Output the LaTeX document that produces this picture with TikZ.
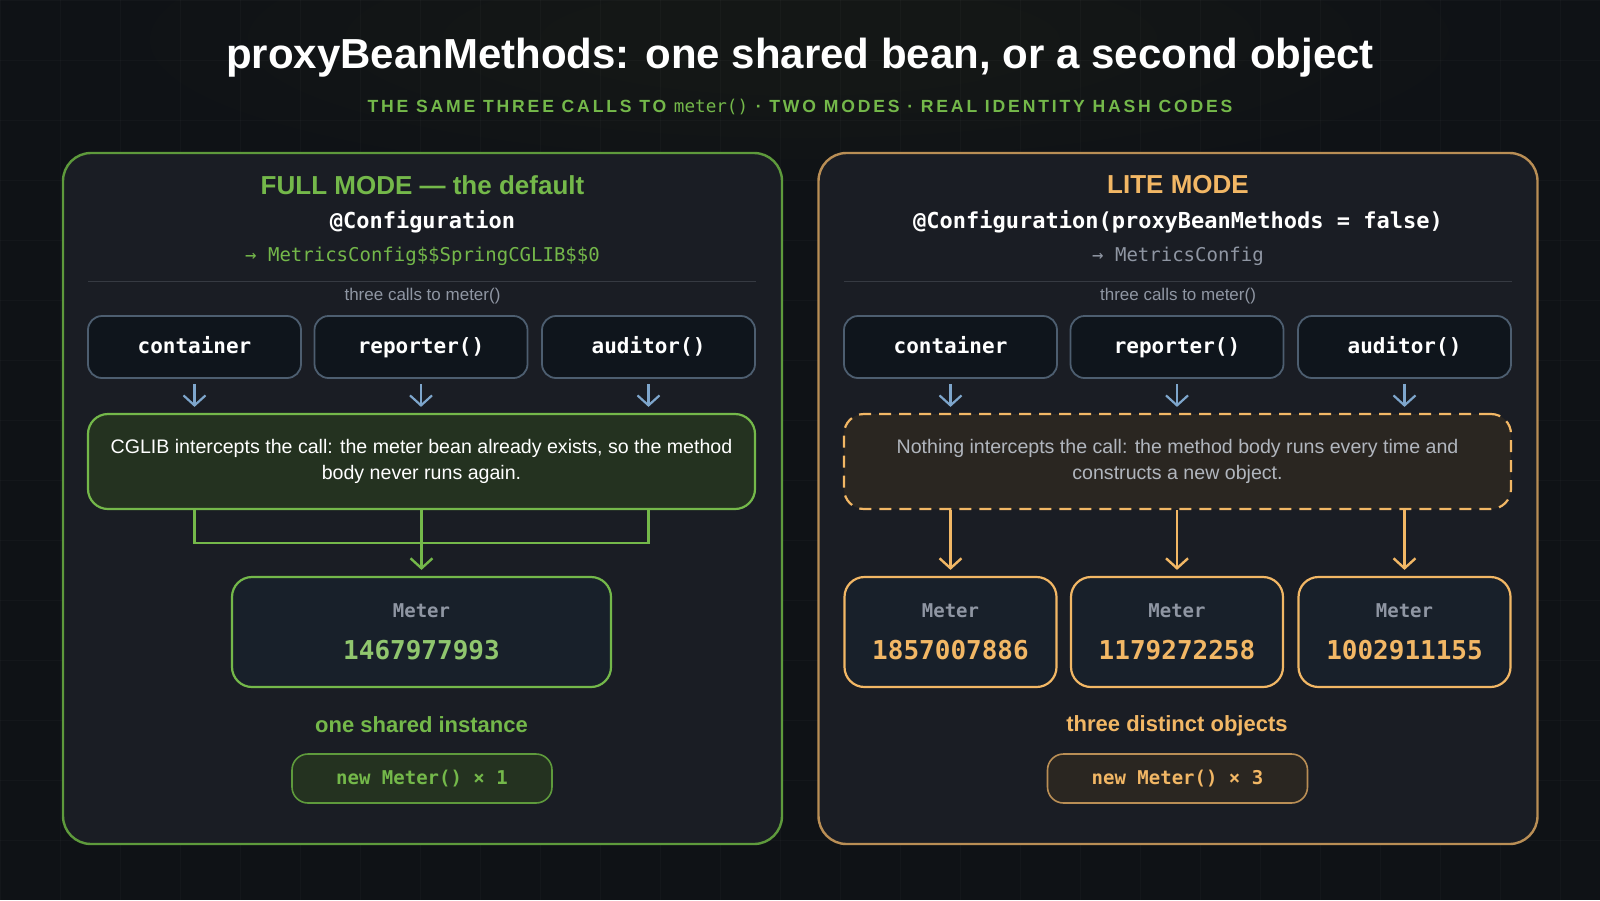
\documentclass[tikz,border=0pt]{standalone}
\usepackage{fontspec}
\setmainfont{Liberation Sans}
\setmonofont{DejaVu Sans Mono}
\usetikzlibrary{arrows.meta,positioning}
\definecolor{bg}{HTML}{0F1216}
\definecolor{panel}{HTML}{1A1D24}
\definecolor{grn}{HTML}{74B84A}
\definecolor{grnB}{HTML}{5E9A3C}
\definecolor{org}{HTML}{F2B765}
\definecolor{orgB}{HTML}{B98E55}
\definecolor{callF}{HTML}{0F151C}
\definecolor{callB}{HTML}{4D5E70}
\definecolor{blu}{HTML}{7EA6CC}
\definecolor{gry}{HTML}{8F96A3}
\definecolor{grnF}{HTML}{243220}
\definecolor{orgF}{HTML}{2A2621}
\definecolor{meterF}{HTML}{18202A}
\definecolor{sep}{HTML}{363A42}
\tikzset{
  panelbox/.style={draw, line width=1.2pt, rounded corners=14pt, fill=panel, minimum width=359.5pt, minimum height=345.5pt},
  call/.style={draw=callB, line width=0.9pt, fill=callF, rounded corners=7pt, minimum width=106.5pt, minimum height=31pt, text height=8pt, text depth=2pt, text=white, font=\ttfamily\bfseries\fontsize{10.5}{12}\selectfont},
  meter/.style={draw, line width=1.1pt, fill=meterF, rounded corners=10pt, minimum height=55pt, align=center},
  pill/.style={draw, line width=0.8pt, rounded corners=8pt, minimum width=130pt, minimum height=24.5pt, font=\ttfamily\bfseries\fontsize{9.5}{11}\selectfont},
  lbl/.style={font=\fontsize{8.5}{10}\selectfont, text=gry},
  barr/.style={blu, line width=1.1pt, -{Straight Barb[length=5pt,width=11pt]}},
  garr/.style={grn, line width=1.2pt, -{Straight Barb[length=5pt,width=11pt]}},
  oarr/.style={org, line width=1.2pt, -{Straight Barb[length=5pt,width=11pt]}},
}
\newcommand{\mlbl}{{\color{gry}\ttfamily\bfseries\fontsize{9.5}{11}\selectfont Meter}}
\begin{document}
\begin{tikzpicture}[x=0.5pt,y=-0.5pt]
\useasboundingbox (0,0) rectangle (1600,900);
\fill[bg] (0,0) rectangle (1600,900);
\begin{scope}
\clip (0,0) rectangle (1600,900);
\foreach \i in {0,60,...,1600} \draw[white,opacity=0.025] (\i,0) -- (\i,900);
\foreach \j in {0,60,...,900} \draw[white,opacity=0.025] (0,\j) -- (1600,\j);
\foreach \s in {1.0,0.85,0.7,0.55,0.4} \fill[grn,opacity=0.012] (800,40) ellipse ({650*\s} and {140*\s});
\end{scope}
\node (title) at (800,58) {\color{white}\bfseries\fontsize{21}{25}\selectfont proxyBeanMethods: one shared bean, or a second object};
\node (sub) at (800,107) {\color{grn}\bfseries\fontsize{8.8}{10}\selectfont\addfontfeatures{LetterSpace=16}THE SAME THREE CALLS TO {\ttfamily\mdseries meter()} · TWO MODES · REAL IDENTITY HASH CODES};

% panels
\node[panelbox, draw=grnB] (lp) at (422.5,498.5) {};
\node[panelbox, draw=orgB] (rp) at (1178,498.5) {};

% left header
\node (lh) at (422.5,185) {\color{grn}\bfseries\fontsize{13}{15}\selectfont FULL MODE — the default};
\node (lc) at (422.5,222) {\color{white}\ttfamily\bfseries\fontsize{11}{13}\selectfont @Configuration};
\node (lcls) at (422.5,256) {\color{grn}\ttfamily\fontsize{9.5}{11}\selectfont → MetricsConfig\$\$SpringCGLIB\$\$0};
\draw[sep] (88,281) -- (756,281);
\node[lbl] (lt) at (422.5,296) {three calls to meter()};
\node[call] (lc1) at (194.5,347) {container};
\node[call] (lc2) at (421,347) {reporter()};
\node[call] (lc3) at (648.5,347) {auditor()};
\coordinate (la1) at (194.5,384); \coordinate (la2) at (421,384); \coordinate (la3) at (648.5,384);
\node[draw=grn, line width=1.1pt, fill=grnF, rounded corners=10pt, minimum width=333.5pt, minimum height=47.5pt, align=center, text=white, font=\fontsize{9.8}{13}\selectfont] (lint) at (421.5,461.5) {CGLIB intercepts the call: the meter bean already exists, so the method\\body never runs again.};
\foreach \k in {1,2,3} \draw[barr] (la\k) -- ([yshift=3pt]la\k |- lint.north);
\node[meter, draw=grn, minimum width=189.5pt] (lm) at (421.5,632) {\mlbl\\[9pt]{\color{grn!80!white}\ttfamily\bfseries\fontsize{13}{15}\selectfont 1467977993}};
\draw[grn, line width=1.2pt] (194.5,509) |- (648.5,543) -- (648.5,509);
\draw[garr] (lint.south) -- ([yshift=3pt]lm.north);
\node (ls) at (421.5,725) {\color{grn}\bfseries\fontsize{11}{13}\selectfont one shared instance};
\node[pill, draw=grnB, fill=grnF, text=grn] (lpill) at (422,778.5) {new Meter() × 1};

% right header
\node (rh) at (1178,185) {\color{org}\bfseries\fontsize{13}{15}\selectfont LITE MODE};
\node (rc) at (1178,222) {\color{white}\ttfamily\bfseries\fontsize{11}{13}\selectfont @Configuration(proxyBeanMethods = false)};
\node (rcls) at (1178,256) {\color{gry}\ttfamily\fontsize{9.5}{11}\selectfont → MetricsConfig};
\draw[sep] (844,281) -- (1512,281);
\node[lbl] (rt) at (1178,296) {three calls to meter()};
\node[call] (rc1) at (950.5,347) {container};
\node[call] (rc2) at (1177,347) {reporter()};
\node[call] (rc3) at (1404.5,347) {auditor()};
\node[draw=org, dashed, dash pattern=on 6pt off 4pt, line width=1.1pt, fill=orgF, rounded corners=10pt, minimum width=333.5pt, minimum height=47.5pt, align=center, text=gry!70!white, font=\fontsize{9.8}{13}\selectfont] (rint) at (1177.5,461.5) {Nothing intercepts the call: the method body runs every time and\\constructs a new object.};
\coordinate (ra1) at (950.5,384); \coordinate (ra2) at (1177,384); \coordinate (ra3) at (1404.5,384);
\foreach \k in {1,2,3} \draw[barr] (ra\k) -- ([yshift=3pt]ra\k |- rint.north);
\node[meter, draw=org, minimum width=106pt] (rm1) at (950.5,632) {\mlbl\\[9pt]{\color{org}\ttfamily\bfseries\fontsize{13}{15}\selectfont 1857007886}};
\node[meter, draw=org, minimum width=106pt] (rm2) at (1177,632) {\mlbl\\[9pt]{\color{org}\ttfamily\bfseries\fontsize{13}{15}\selectfont 1179272258}};
\node[meter, draw=org, minimum width=106pt] (rm3) at (1404.5,632) {\mlbl\\[9pt]{\color{org}\ttfamily\bfseries\fontsize{13}{15}\selectfont 1002911155}};
\foreach \k in {1,2,3} \draw[oarr] (rm\k.north |- rint.south) -- ([yshift=3pt]rm\k.north);
\node (rs) at (1177,726) {\color{org}\bfseries\fontsize{11}{13}\selectfont three distinct objects};
\node[pill, draw=orgB, fill=orgF, text=org] (rpill) at (1177.5,778.5) {new Meter() × 3};
\end{tikzpicture}
\end{document}
